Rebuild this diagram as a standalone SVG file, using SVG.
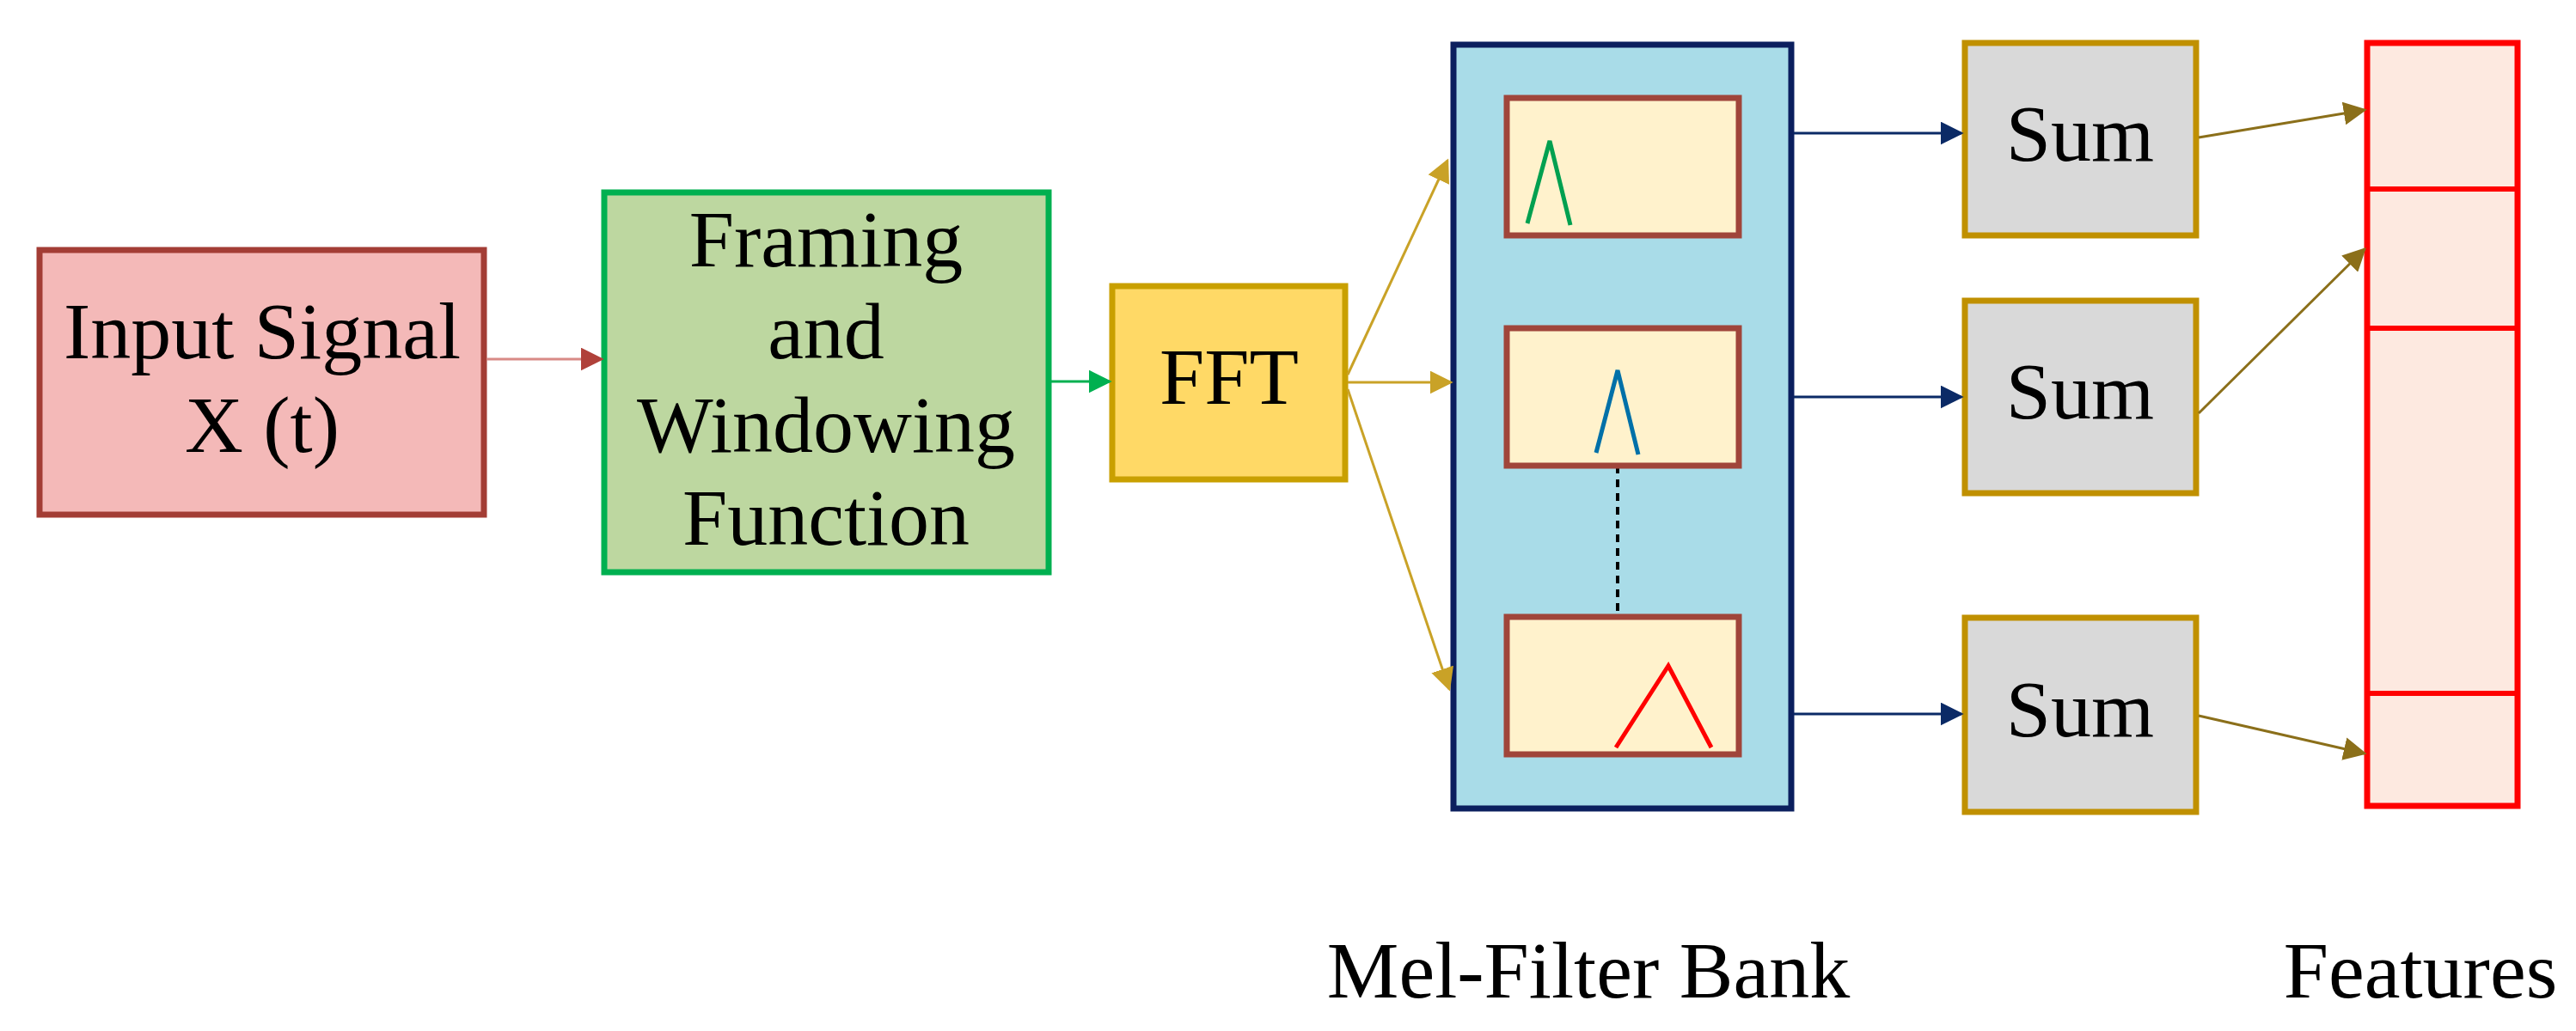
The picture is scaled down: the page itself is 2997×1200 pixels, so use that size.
<svg xmlns="http://www.w3.org/2000/svg" width="2997" height="1200" viewBox="0 0 2997 1200">
<style>
text{font-family:"Liberation Serif","Times New Roman",serif;font-size:94px;fill:#000;text-anchor:middle}
.b{stroke-width:7}
.c{fill:none;stroke-width:3}
</style>
<defs>
<marker id="mr" viewBox="0 0 10 10" refX="9" refY="5" markerWidth="9" markerHeight="9" orient="auto" markerUnits="strokeWidth"><path d="M0,0L10,5L0,10z" fill="#b0413a"/></marker>
<marker id="mg" viewBox="0 0 10 10" refX="9" refY="5" markerWidth="9" markerHeight="9" orient="auto" markerUnits="strokeWidth"><path d="M0,0L10,5L0,10z" fill="#00b050"/></marker>
<marker id="my" viewBox="0 0 10 10" refX="9" refY="5" markerWidth="9" markerHeight="9" orient="auto" markerUnits="strokeWidth"><path d="M0,0L10,5L0,10z" fill="#c9a227"/></marker>
<marker id="mb" viewBox="0 0 10 10" refX="9" refY="5" markerWidth="9" markerHeight="9" orient="auto" markerUnits="strokeWidth"><path d="M0,0L10,5L0,10z" fill="#0b2a66"/></marker>
<marker id="mo" viewBox="0 0 10 10" refX="9" refY="5" markerWidth="9" markerHeight="9" orient="auto" markerUnits="strokeWidth"><path d="M0,0L10,5L0,10z" fill="#8b6f1a"/></marker>
</defs>
<rect width="2997" height="1200" fill="#fff"/>
<g id="input"><rect class="b" x="46" y="291" width="517" height="308" fill="#f4b9b8" stroke="#a33d35"/><text x="305" y="417">Input Signal</text><text x="305" y="526">X (t)</text></g>
<g id="framing"><rect class="b" x="703" y="224" width="517" height="442" fill="#bdd7a0" stroke="#00b050"/><text x="961" y="310">Framing</text><text x="961" y="417">and</text><text x="961" y="526">Windowing</text><text x="961" y="634">Function</text></g>
<g id="fft"><rect class="b" x="1294" y="333" width="271" height="225" fill="#ffd966" stroke="#c9a000"/><text x="1430" y="470">FFT</text></g>
<g id="melbank"><rect class="b" x="1691" y="52" width="393" height="889" fill="#a9dce8" stroke="#0b1f5e"/>
<line x1="1882" y1="542" x2="1882" y2="718" stroke="#000" stroke-width="4" stroke-dasharray="9,7"/>
<rect class="b" x="1753" y="114" width="270" height="160" fill="#fff2cc" stroke="#a0453a"/>
<polyline class="c" points="1777,260 1803,164 1827,262" stroke="#00a050" style="stroke-width:5"/>
<rect class="b" x="1753" y="382" width="270" height="160" fill="#fff2cc" stroke="#a0453a"/>
<polyline class="c" points="1857,527 1882,431 1906,529" stroke="#0070a8" style="stroke-width:5"/>
<rect class="b" x="1753" y="718" width="270" height="160" fill="#fff2cc" stroke="#a0453a"/>
<polyline class="c" points="1880,870 1941,775 1991,870" stroke="#ff0000" style="stroke-width:5"/>
<text x="1848" y="1161">Mel-Filter Bank</text></g>
<g id="sum1"><rect class="b" x="2286" y="50" width="269" height="224" fill="#d9d9d9" stroke="#c09000"/><text x="2420" y="187">Sum</text></g>
<g id="sum2"><rect class="b" x="2286" y="350" width="269" height="224" fill="#d9d9d9" stroke="#c09000"/><text x="2420" y="487">Sum</text></g>
<g id="sum3"><rect class="b" x="2286" y="719" width="269" height="226" fill="#d9d9d9" stroke="#c09000"/><text x="2420" y="857">Sum</text></g>
<g id="features"><rect class="b" x="2754" y="50" width="175" height="888" fill="#fde9e0" stroke="#ff0000"/>
<line x1="2754" y1="220" x2="2929" y2="220" stroke="#ff0000" stroke-width="6"/>
<line x1="2754" y1="382" x2="2929" y2="382" stroke="#ff0000" stroke-width="6"/>
<line x1="2754" y1="807" x2="2929" y2="807" stroke="#ff0000" stroke-width="6"/>
<text x="2816" y="1161">Features</text></g>
<g id="connectors">
<line class="c" x1="566" y1="418" x2="700" y2="418" stroke="#d88a86" marker-end="url(#mr)"/>
<line class="c" x1="1223" y1="444" x2="1291" y2="444" stroke="#00b050" marker-end="url(#mg)"/>
<line class="c" x1="1568" y1="436" x2="1684" y2="187" stroke="#c9a227" marker-end="url(#my)"/>
<line class="c" x1="1568" y1="445" x2="1688" y2="445" stroke="#c9a227" marker-end="url(#my)"/>
<line class="c" x1="1568" y1="453" x2="1686" y2="802" stroke="#c9a227" marker-end="url(#my)"/>
<line class="c" x1="2087" y1="155" x2="2282" y2="155" stroke="#0b2a66" marker-end="url(#mb)"/>
<line class="c" x1="2087" y1="462" x2="2282" y2="462" stroke="#0b2a66" marker-end="url(#mb)"/>
<line class="c" x1="2087" y1="831" x2="2282" y2="831" stroke="#0b2a66" marker-end="url(#mb)"/>
<line class="c" x1="2558" y1="160" x2="2751" y2="128" stroke="#8b6f1a" marker-end="url(#mo)"/>
<line class="c" x1="2558" y1="481" x2="2751" y2="290" stroke="#8b6f1a" marker-end="url(#mo)"/>
<line class="c" x1="2558" y1="833" x2="2751" y2="877" stroke="#8b6f1a" marker-end="url(#mo)"/>
</g>
</svg>
